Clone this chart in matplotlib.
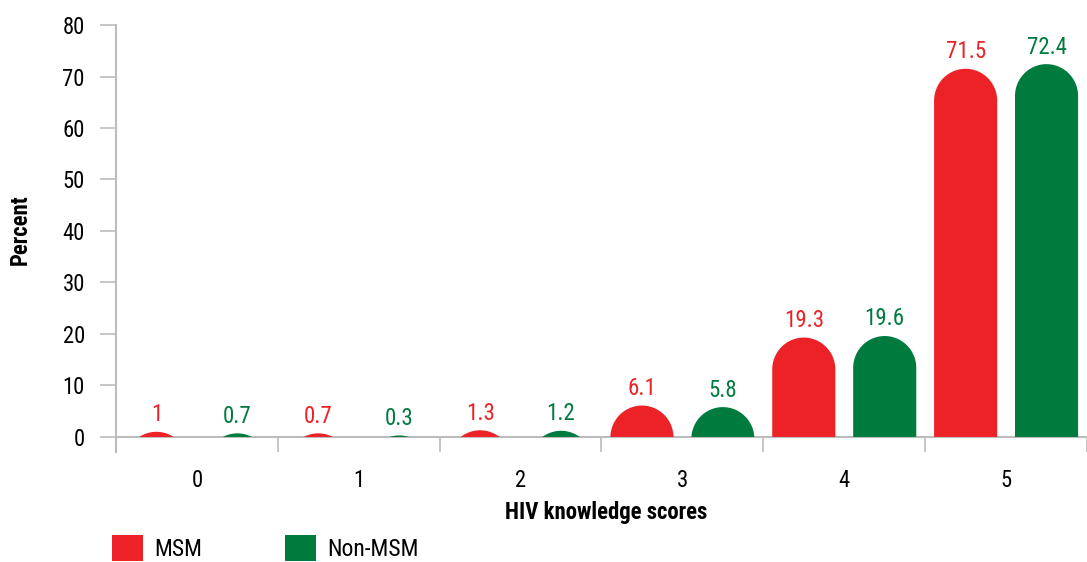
import numpy as np
import matplotlib
matplotlib.use('Agg')
import matplotlib.pyplot as plt
from matplotlib.patches import Polygon, Patch

plt.rcParams['font.family'] = ['Roboto Condensed', 'Liberation Sans Narrow',
                               'Liberation Sans', 'DejaVu Sans']

# data
scores = ['0', '1', '2', '3', '4', '5']
msm = [1, 0.7, 1.3, 6.1, 19.3, 71.5]
non_msm = [0.7, 0.3, 1.2, 5.8, 19.6, 72.4]

RED = '#ec2227'
GREEN = '#007b3e'


def rounded_bar(ax, cx, h, w, color, cap=6.2):
    # bar with a half-round top, cut off at the baseline
    a = w / 2
    t = np.linspace(0, np.pi, 90)
    xs = cx + a * np.cos(t)
    ys = (h - cap) + cap * np.sin(t)
    xs = np.concatenate([[cx + a], xs, [cx - a]])
    ys = np.concatenate([[0], ys, [0]])
    ys = np.maximum(ys, 0)
    ax.add_patch(Polygon(np.column_stack([xs, ys]), closed=True,
                         facecolor=color, edgecolor='none', zorder=3))


fig = plt.figure(figsize=(10.87, 5.62), dpi=100)
ax = fig.add_axes([116 / 1087, 0.195, 1 - 116 / 1087, 0.7605])

x = np.arange(len(scores))
w = 0.39
off = 0.25
for i in x:
    rounded_bar(ax, i - off, msm[i], w, RED)
    rounded_bar(ax, i + off, non_msm[i], w, GREEN)
    ax.annotate(f'{msm[i]:g}', (i - off, msm[i]), xytext=(0, 4),
                textcoords='offset points', ha='center', va='bottom',
                color=RED, fontsize=16.5)
    ax.annotate(f'{non_msm[i]:g}', (i + off, non_msm[i]), xytext=(0, 4),
                textcoords='offset points', ha='center', va='bottom',
                color=GREEN, fontsize=16.5)

ax.set_xlim(-0.5, 5.44)
ax.set_ylim(-3, 80)

grey = '#bcbcbc'
for sp in ['top', 'right']:
    ax.spines[sp].set_visible(False)
ax.spines['bottom'].set_position(('data', 0))
ax.spines['bottom'].set_color(grey)
ax.spines['left'].set_color(grey)
ax.spines['bottom'].set_linewidth(1.5)
ax.spines['left'].set_linewidth(1.5)

ax.set_yticks(np.arange(0, 81, 10))
ax.tick_params(axis='y', length=11.5, width=1.2, color=grey, pad=11,
               labelsize=16.3)
ax.set_xticks(x)
ax.set_xticklabels(scores)
ax.tick_params(axis='x', which='major', length=0, pad=23, labelsize=16.3)
ax.set_xticks(np.arange(-0.5, 6, 1), minor=True)
ax.tick_params(axis='x', which='minor', length=11, width=1.2, color=grey)

fig.text(606 / 1087, 1 - 513 / 562, 'HIV knowledge scores', ha='center',
         va='center', fontsize=16.4, fontweight='bold')
fig.text(20 / 1087, 1 - 230 / 562, 'Percent', ha='center', va='center',
         rotation=90, fontsize=16.4, fontweight='bold')

handles = [Patch(facecolor=RED, label='MSM'),
           Patch(facecolor=GREEN, label='Non-MSM')]
fig.legend(handles=handles, ncol=2, loc='upper left',
           bbox_to_anchor=(112 / 1087, 1 - 535 / 562), frameon=False,
           fontsize=17, handlelength=1.3, handleheight=1.3,
           handletextpad=0.5, columnspacing=3.5, borderaxespad=0,
           borderpad=0)

fig.savefig('out.png', dpi=100)
